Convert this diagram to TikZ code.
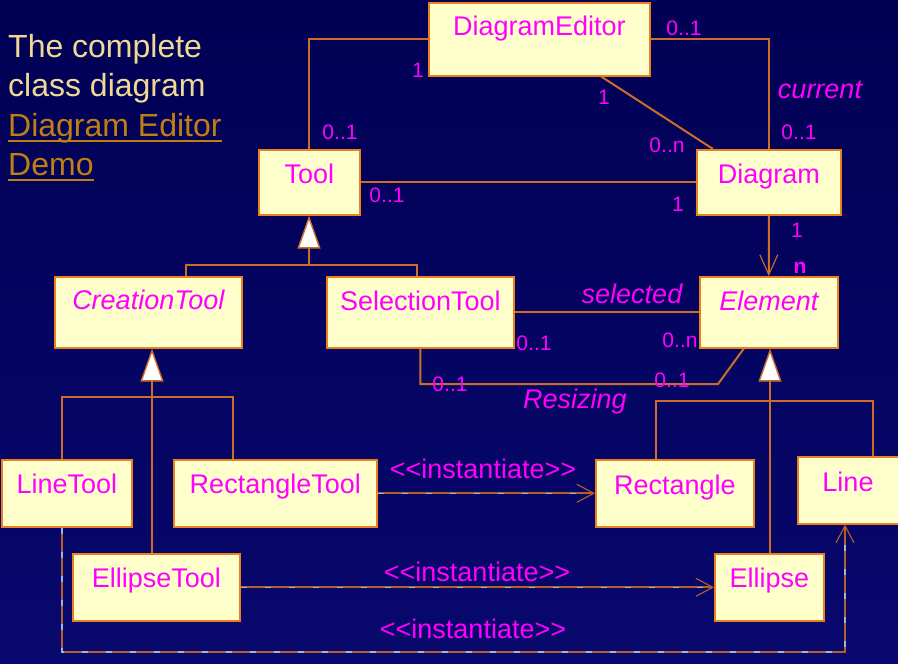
\documentclass[tikz,border=0pt]{standalone}
\usepackage{fontspec}
\setmainfont{Liberation Sans}
\usetikzlibrary{arrows.meta}
\definecolor{bgtop}{RGB}{0,0,84}
\definecolor{bgbot}{RGB}{8,8,110}
\definecolor{boxfill}{RGB}{255,255,204}
\definecolor{boxline}{RGB}{236,128,30}
\definecolor{connc}{RGB}{205,110,40}
\definecolor{depc}{RGB}{180,95,42}
\definecolor{mag}{RGB}{255,0,255}
\definecolor{titlec}{RGB}{240,216,150}
\definecolor{linkc}{RGB}{192,128,16}
\definecolor{dashc}{RGB}{160,180,225}
\begin{document}
\begin{tikzpicture}[x=1bp,y=-1bp,
  cls/.style={draw=boxline, fill=boxfill, line width=1.6bp, anchor=north west, inner sep=0pt},
  clsname/.style={text=mag, font=\fontsize{27bp}{27bp}\selectfont, anchor=base, inner sep=0pt},
  iclsname/.style={clsname, font=\fontsize{27bp}{27bp}\selectfont\itshape},
  mult/.style={text=mag, font=\fontsize{21bp}{21bp}\selectfont, inner sep=0pt},
  role/.style={text=mag, font=\fontsize{27bp}{27bp}\selectfont\itshape, inner sep=0pt},
  stereo/.style={text=mag, font=\fontsize{27bp}{27bp}\selectfont, inner sep=0pt},
  titletext/.style={text=titlec, font=\fontsize{32bp}{32bp}\selectfont, anchor=base west, inner sep=0pt},
  linktext/.style={text=linkc, font=\fontsize{32bp}{32bp}\selectfont, anchor=base west, inner sep=0pt},
  assoc/.style={draw=connc, line width=2bp},
  inh/.style={assoc, -{Triangle[length=33bp,width=23bp,fill=white,line width=1.4bp]}},
  nav/.style={assoc, -{Straight Barb[length=20bp,width=18bp,line width=1.1bp]}},
  dep/.style={draw=depc, line width=2bp, -{Straight Barb[length=17bp,width=18bp,line width=1.1bp]}},
  depdash/.style={draw=dashc, line width=1.2bp, dash pattern=on 6bp off 18bp, shorten >=4bp}]

\useasboundingbox (0,0) rectangle (898,664);
\clip (0,0) rectangle (898,664);
\shade[top color=bgtop, bottom color=bgbot] (0,0) rectangle (898,664);

% title
\node[titletext] (t1) at (8,58) {The complete};
\node[titletext] (t2) at (8,97) {class diagram};
\node[linktext] (l1) at (8,137) {Diagram Editor};
\node[linktext] (l2) at (8,176) {Demo};
\draw[linkc, line width=2bp] ([yshift=-4bp]l1.base west) -- ([yshift=-4bp]l1.base east);
\draw[linkc, line width=2bp] ([yshift=-4bp]l2.base west) -- ([yshift=-4bp]l2.base east);

% classes
\node[cls, minimum width=221bp, minimum height=73bp] (de) at (428,2) {};
\node[cls, minimum width=101bp, minimum height=65bp] (tool) at (258,149) {};
\node[cls, minimum width=144bp, minimum height=65bp] (diag) at (696,149) {};
\node[cls, minimum width=187bp, minimum height=71bp] (ct) at (54,276) {};
\node[cls, minimum width=187bp, minimum height=71bp] (st) at (326,276) {};
\node[cls, minimum width=138bp, minimum height=71bp] (elem) at (699,276) {};
\node[cls, minimum width=130bp, minimum height=67bp] (lt) at (1,459) {};
\node[cls, minimum width=203bp, minimum height=67bp] (rt) at (173,459) {};
\node[cls, minimum width=158bp, minimum height=67bp] (rect) at (595,459) {};
\node[cls, minimum width=112bp, minimum height=67bp] (line) at (797,456) {};
\node[cls, minimum width=167bp, minimum height=67bp] (et) at (72,553) {};
\node[cls, minimum width=109bp, minimum height=67bp] (ell) at (714,553) {};

\node[clsname] (deT) at ([yshift=-34bp]de.north) {DiagramEditor};
\node[clsname] (toolT) at ([yshift=-34bp]tool.north) {Tool};
\node[clsname] (diagT) at ([yshift=-34bp]diag.north) {Diagram};
\node[iclsname] (ctT) at ([yshift=-33bp]ct.north) {CreationTool};
\node[clsname] (stT) at ([yshift=-34bp]st.north) {SelectionTool};
\node[iclsname] (elemT) at ([yshift=-34bp]elem.north) {Element};
\node[clsname] (ltT) at ([yshift=-34bp]lt.north) {LineTool};
\node[clsname] (rtT) at ([yshift=-34bp]rt.north) {RectangleTool};
\node[clsname] (rectT) at ([yshift=-35bp]rect.north) {Rectangle};
\node[clsname] (lineT) at ([xshift=51bp,yshift=-35bp]line.north west) {Line};
\node[clsname] (etT) at ([yshift=-34bp]et.north) {EllipseTool};
\node[clsname] (ellT) at ([yshift=-34bp]ell.north) {Ellipse};

% associations
\draw[assoc] (de.west) -| (tool.north);
\draw[assoc] (de.east) -| (diag.north);
\draw[assoc] ([xshift=62bp]de.south) -- ([xshift=17bp]diag.north west);
\draw[assoc] (tool.east) -- (diag.west);
\draw[nav] (diag.south) -- (elem.north);
\draw[assoc] (st.east) -- (elem.west);
\coordinate (rz1) at (420,384);
\coordinate (rz2) at (718,384);
\draw[assoc] (st.south) -- (st.south |- rz1) -- (rz2) -- ([xshift=-25bp]elem.south);

% inheritance
\coordinate (tj) at (309,265);
\coordinate (tjL) at (186,265);
\coordinate (tjR) at (417,265);
\draw[inh] (tj) -- (tj |- tool.south);
\draw[assoc] (tjL |- ct.north) -- (tjL) -- (tjR) -- (tjR |- st.north);

\coordinate (cj) at (152,397);
\coordinate (cjL) at (62,397);
\coordinate (cjR) at (233,397);
\draw[inh] (cj |- et.north) -- (cj |- ct.south);
\draw[assoc] (cjL |- lt.north) -- (cjL) -- (cjR) -- (cjR |- rt.north);

\coordinate (ej) at (770,401);
\coordinate (ejL) at (656,401);
\coordinate (ejR) at (873,401);
\draw[inh] (ej |- ell.north) -- (ej |- elem.south);
\draw[assoc] (ejL |- rect.north) -- (ejL) -- (ejR) -- (ejR |- line.north);

% dependencies
\draw[dep] (rt.east) -- (rect.west);
\draw[depdash] (rt.east) -- (rect.west);
\draw[dep] (et.east) -- (ell.west);
\draw[depdash] (et.east) -- (ell.west);
\coordinate (lb1) at (62,652);
\coordinate (lb2) at (845,652);
\draw[dep] (lb1 |- lt.south) -- (lb1) -- (lb2) -- (lb2 |- line.south);
\draw[depdash] (lb1 |- lt.south) -- (lb1) -- (lb2) -- (lb2 |- line.south);

% labels
\node[mult] (m1) at (418,70) {1};
\node[mult] (m2) at (340,132) {0..1};
\node[mult] (m3) at (387,195) {0..1};
\node[mult] (m4) at (684,28) {0..1};
\node[role] (r1) at (820,90) {current};
\node[mult] (m5) at (799,132) {0..1};
\node[mult] (m6) at (604,97) {1};
\node[mult] (m7) at (667,145) {0..n};
\node[mult] (m8) at (678,204) {1};
\node[mult] (m9) at (797,230) {1};
\node[mult, font=\fontsize{21bp}{21bp}\selectfont\bfseries] (m10) at (800,268) {n};
\node[role] (r2) at (632,294) {selected};
\node[mult] (m11) at (534,343) {0..1};
\node[mult] (m12) at (680,340) {0..n};
\node[mult] (m13) at (672,380) {0..1};
\node[mult] (m14) at (450,384) {0..1};
\node[role] (r3) at (575,402) {Resizing};
\node[stereo] (s1) at (483,469) {<{}<instantiate>{}>};
\node[stereo] (s2) at (477,572) {<{}<instantiate>{}>};
\node[stereo] (s3) at (473,629) {<{}<instantiate>{}>};
\end{tikzpicture}
\end{document}
